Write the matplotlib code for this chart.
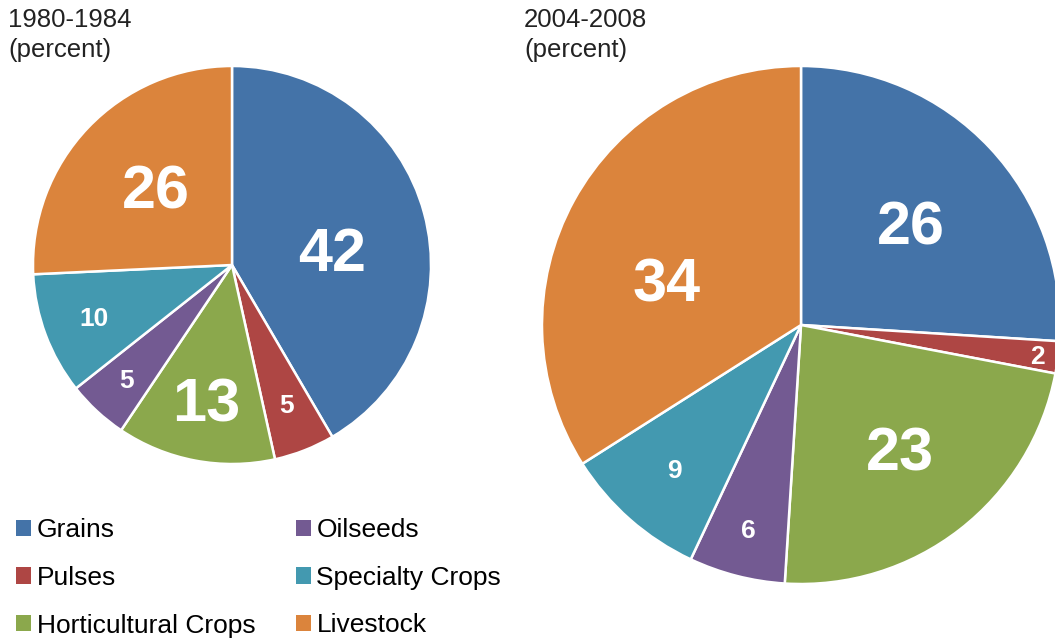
import numpy as np
import matplotlib
matplotlib.use("Agg")
import matplotlib.pyplot as plt
from matplotlib.patches import Patch

plt.rcParams["font.family"] = ["Liberation Sans", "DejaVu Sans"]

# ============================================================
# DATA
# ============================================================

CATEGORIES = ["Grains", "Pulses", "Horticultural Crops", "Oilseeds",
              "Specialty Crops", "Livestock"]
COLORS = ["#4473A8", "#AE4644", "#8BA84C", "#735A92", "#4399B0", "#DB843C"]

SHARE_1980 = [42, 5, 13, 5, 10, 26]
SHARE_2004 = [26, 2, 23, 6, 9, 34]

TITLE_1980 = "1980-1984\n(percent)"
TITLE_2004 = "2004-2008\n(percent)"

W, H = 1055, 641


def px_axes(fig, cx, cy, r):
    """Square axes centred on pixel (cx, cy) from the top-left, radius r."""
    return fig.add_axes([(cx - r) / W, (H - cy - r) / H, 2 * r / W, 2 * r / H])


def draw_pie(ax, values, big, rfrac, nudge):
    wedges, _ = ax.pie(values, colors=COLORS, startangle=90, counterclock=False,
                       radius=1.0,
                       wedgeprops=dict(edgecolor="white", linewidth=1.8))
    ax.set_xlim(-1, 1)
    ax.set_ylim(-1, 1)
    ax.set_aspect("auto")
    ax.axis("off")
    for w, v, b, rf, dn in zip(wedges, values, big, rfrac, nudge):
        ang = np.deg2rad((w.theta1 + w.theta2) / 2 + dn)
        ax.text(rf * np.cos(ang), rf * np.sin(ang), str(v),
                ha="center", va="center_baseline", color="white",
                fontweight="bold", fontsize=44 if b else 19)


fig = plt.figure(figsize=(W / 100, H / 100), dpi=100)

ax1 = px_axes(fig, 232, 265, 199)
draw_pie(ax1, SHARE_1980,
         big=[True, False, True, False, False, True],
         rfrac=[0.51, 0.75, 0.69, 0.78, 0.74, 0.55],
         nudge=[-6, 0, 0, 0, 0, -2])

ax2 = px_axes(fig, 801, 325, 259)
draw_pie(ax2, SHARE_2004,
         big=[True, False, True, False, False, True],
         rfrac=[0.58, 0.92, 0.61, 0.81, 0.74, 0.55],
         nudge=[0, 0, 1, 0, 0, 10])

fig.text(8 / W, 1 - 8 / H, TITLE_1980, ha="left", va="top",
         fontsize=18.5, color="#222222", linespacing=1.3)
fig.text(524 / W, 1 - 8 / H, TITLE_2004, ha="left", va="top",
         fontsize=18.5, color="#222222", linespacing=1.3)

handles = [Patch(facecolor=c, edgecolor="none") for c in COLORS]
fig.legend(handles, CATEGORIES, ncol=2, loc="upper left",
           bbox_to_anchor=(16 / W, 1 - 518 / H), frameon=False,
           fontsize=19, handlelength=0.57, handleheight=0.57,
           handletextpad=0.22, columnspacing=1.52, labelspacing=0.9,
           borderaxespad=0, borderpad=0)

fig.savefig("out.png", dpi=100)
